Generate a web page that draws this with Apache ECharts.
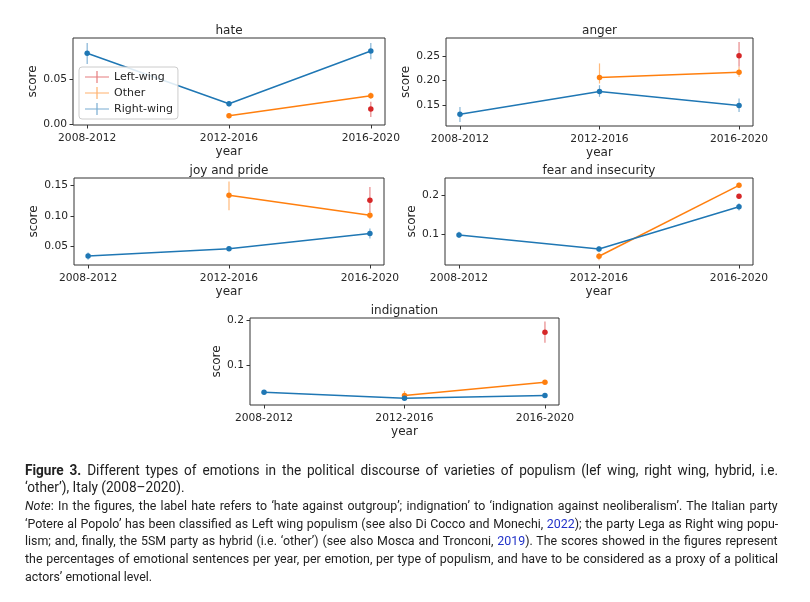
<!DOCTYPE html>
<html>
<head>
<meta charset="utf-8">
<script src="https://cdn.jsdelivr.net/npm/echarts@6/dist/echarts.min.js"></script>
<style>
  html, body { margin: 0; padding: 0; background: #fff; }
  #wrap { position: relative; width: 810px; height: 602px; overflow: hidden; }
  #chart { position: absolute; left: 0; top: 0; width: 810px; height: 602px; }
  #caption { position: absolute; left: 25px; top: 461.5px; color: #222;
             font-family: 'Roboto', 'Liberation Sans', sans-serif; transform-origin: 0 0; }
  #caption div { white-space: nowrap; line-height: 17.7px; }
  #caption .big { font-size: 14.5px; }
  #caption .small { font-size: 13.2px; }
  #caption .ref { color: #2233c8; }
</style>
</head>
<body>
<div id="wrap">
  <div id="chart"></div>
  <div id="caption">
    <div class="big just"><span><b>Figure 3.</b> Different types of emotions in the political discourse of varieties of populism (lef wing, right wing, hybrid, i.e.</span></div>
    <div class="big"><span>‘other’), Italy (2008–2020).</span></div>
    <div class="small just"><span><i>Note</i>: In the figures, the label hate refers to ‘hate against outgroup’; indignation’ to ‘indignation against neoliberalism’. The Italian party</span></div>
    <div class="small just"><span>‘Potere al Popolo’ has been classified as Left wing populism (see also Di Cocco and Monechi, <span class="ref">2022</span>); the party Lega as Right wing popu-</span></div>
    <div class="small just"><span>lism; and, finally, the 5SM party as hybrid (i.e. ‘other’) (see also Mosca and Tronconi, <span class="ref">2019</span>). The scores showed in the figures represent</span></div>
    <div class="small just"><span>the percentages of emotional sentences per year, per emotion, per type of populism, and have to be considered as a proxy of a political</span></div>
    <div class="small"><span>actors’ emotional level.</span></div>
  </div>
</div>
<script>
// periods on the x axis, emotions = one panel each
var periods = ['2008-2012', '2012-2016', '2016-2020'];
var emotions = ['hate', 'anger', 'joy and pride', 'fear and insecurity', 'indignation'];
var groups = ['Left-wing', 'Other', 'Right-wing'];
var colors = ['#d62728', '#ff7f0e', '#1f77b4'];

// mean scores, one row per emotion (same order as emotions)
var leftMean = [
  [null, null, 0.0167],
  [null, null, 0.250],
  [null, null, 0.126],
  [null, null, 0.198],
  [null, null, 0.174]
];
var leftLow = [
  [null, null, 0.008],
  [null, null, 0.2277],
  [null, null, 0.107],
  [null, null, 0.192],
  [null, null, 0.151]
];
var leftHigh = [
  [null, null, 0.0248],
  [null, null, 0.278],
  [null, null, 0.148],
  [null, null, 0.204],
  [null, null, 0.198]
];
var otherMean = [
  [null, 0.0092, 0.0315],
  [null, 0.206, 0.2167],
  [null, 0.1342, 0.1016],
  [null, 0.043, 0.226],
  [null, 0.033, 0.0627]
];
var otherLow = [
  [null, 0.0065, 0.028],
  [null, 0.194, 0.207],
  [null, 0.1098, 0.0956],
  [null, 0.033, 0.219],
  [null, 0.026, 0.059]
];
var otherHigh = [
  [null, 0.012, 0.035],
  [null, 0.2346, 0.2275],
  [null, 0.157, 0.1076],
  [null, 0.052, 0.233],
  [null, 0.0435, 0.066]
];
var rightMean = [
  [0.0786, 0.0226, 0.081],
  [0.1318, 0.1777, 0.1494],
  [0.0346, 0.0467, 0.0717],
  [0.098, 0.062, 0.1707],
  [0.0405, 0.0271, 0.033]
];
var rightLow = [
  [0.0667, 0.0195, 0.072],
  [0.116, 0.167, 0.1364],
  [0.0286, 0.043, 0.0634],
  [0.090, 0.055, 0.161],
  [0.036, 0.024, 0.030]
];
var rightHigh = [
  [0.090, 0.0255, 0.090],
  [0.1466, 0.1905, 0.1636],
  [0.0406, 0.0504, 0.0797],
  [0.106, 0.069, 0.180],
  [0.045, 0.030, 0.036]
];

// y tick values and axis extents for each panel
var yTicks = [[0, 0.05], [0.15, 0.20, 0.25], [0.05, 0.10, 0.15], [0.1, 0.2], [0.1, 0.2]];
var yDecimals = [2, 2, 2, 1, 1];
var yMin = [-0.001, 0.108, 0.020, 0.0205, 0.012];
var yMax = [0.0955, 0.286, 0.1626, 0.245, 0.206];

var means = [leftMean, otherMean, rightMean];
var lows = [leftLow, otherLow, rightLow];
var highs = [leftHigh, otherHigh, rightHigh];

// panel boxes [left, top, width, height]
var boxes = [
  [73, 38, 312, 87],
  [446, 38, 307, 88],
  [74, 178, 310, 87],
  [445, 178, 308, 87],
  [250, 318, 309, 87]
];
var nameGaps = [33, 34, 34, 23, 23];

var font = 'DejaVu Sans';
var ink = '#262626';

var grid = [], xAxis = [], yAxis = [], title = [], series = [];

boxes.forEach(function (b, p) {
  grid.push({ left: b[0], top: b[1], width: b[2], height: b[3], show: true,
              borderColor: '#333', borderWidth: 1, backgroundColor: 'transparent' });
  title.push({ text: emotions[p], left: b[0] + b[2] / 2, top: b[1] - 13, textAlign: 'center', padding: 0,
               textStyle: { fontFamily: font, fontSize: 12, fontWeight: 'normal', color: ink } });
  xAxis.push({
    type: 'value', gridIndex: p, min: -0.1, max: 2.1,
    name: 'year', nameLocation: 'middle', nameGap: 21,
    nameTextStyle: { fontFamily: font, fontSize: 12, color: ink },
    axisLine: { show: false, onZero: false }, splitLine: { show: false },
    axisTick: { show: true, length: 3.5, customValues: [0, 1, 2], lineStyle: { color: '#333' } },
    axisLabel: { customValues: [0, 1, 2], margin: 8, fontFamily: font, fontSize: 10.7, color: ink,
                 formatter: function (v) { return periods[Math.round(v)]; } }
  });
  yAxis.push({
    type: 'value', gridIndex: p, min: yMin[p], max: yMax[p],
    name: 'score', nameLocation: 'middle', nameGap: nameGaps[p], nameRotate: 90,
    nameTextStyle: { fontFamily: font, fontSize: 12, color: ink },
    axisLine: { show: false, onZero: false }, splitLine: { show: false },
    axisTick: { show: true, length: 3.5, customValues: yTicks[p], lineStyle: { color: '#333' } },
    axisLabel: { customValues: yTicks[p], margin: 6, fontFamily: font, fontSize: 10.7, color: ink,
                 formatter: (function (d) { return function (v) { return v.toFixed(d); }; })(yDecimals[p]) }
  });

  groups.forEach(function (g, k) {
    var pts = [], bars = [];
    for (var i = 0; i < periods.length; i++) {
      var m = means[k][p][i];
      if (m === null) continue;
      pts.push([i, m]);
      bars.push([i, lows[k][p][i], highs[k][p][i]]);
    }
    series.push({
      name: g, type: 'line', xAxisIndex: p, yAxisIndex: p, data: pts, z: 3 + k,
      color: colors[k], symbol: 'circle', symbolSize: 5.5, showSymbol: true,
      lineStyle: { width: 1.5, color: colors[k] }, itemStyle: { color: colors[k] }
    });
    series.push({
      name: g, type: 'custom', coordinateSystem: 'cartesian2d',
      xAxisIndex: p, yAxisIndex: p, data: bars, z: 2 + k, silent: true,
      itemStyle: { color: colors[k] },
      encode: { x: 0, y: [1, 2] },
      renderItem: (function (c) {
        return function (params, api) {
          var a = api.coord([api.value(0), api.value(1)]);
          var e = api.coord([api.value(0), api.value(2)]);
          return { type: 'line', shape: { x1: a[0], y1: a[1], x2: e[0], y2: e[1] },
                   style: { stroke: c, lineWidth: 1.2, opacity: 0.55 } };
        };
      })(colors[k])
    });
  });
});

// legend icon: errorbar style, a line with a vertical cap
var legendIcon = 'path://M0,5.4h24v1.2h-24z M11.4,0h1.2v12h-1.2z';

var chart = echarts.init(document.getElementById('chart'), null, { renderer: 'canvas' });
chart.setOption({
  backgroundColor: '#fff',
  animation: false,
  title: title,
  grid: grid,
  xAxis: xAxis,
  yAxis: yAxis,
  legend: {
    left: 79, top: 67, orient: 'vertical',
    padding: [4, 5, 4, 6], itemGap: 4, itemWidth: 24, itemHeight: 12,
    backgroundColor: 'rgba(255,255,255,0.85)', borderColor: '#cccccc', borderWidth: 1, borderRadius: 3,
    itemStyle: { opacity: 0.6 },
    textStyle: { fontFamily: font, fontSize: 11, color: ink },
    data: groups.map(function (g) { return { name: g, icon: legendIcon }; }),
    z: 10
  },
  series: series
});

// caption: slightly condensed via horizontal scale, lines justified to the text block width
var capScale = 0.94;
var capWidth = 753 / capScale;
var cap = document.getElementById('caption');
cap.style.width = capWidth + 'px';
cap.style.transform = 'scaleX(' + capScale + ')';
Array.prototype.forEach.call(cap.querySelectorAll('div.just'), function (line) {
  var inner = line.firstElementChild;
  var w = inner.offsetWidth;
  var gaps = inner.textContent.split(' ').length - 1;
  if (gaps > 0) line.style.wordSpacing = ((capWidth - w) / gaps) + 'px';
});
</script>
</body>
</html>
